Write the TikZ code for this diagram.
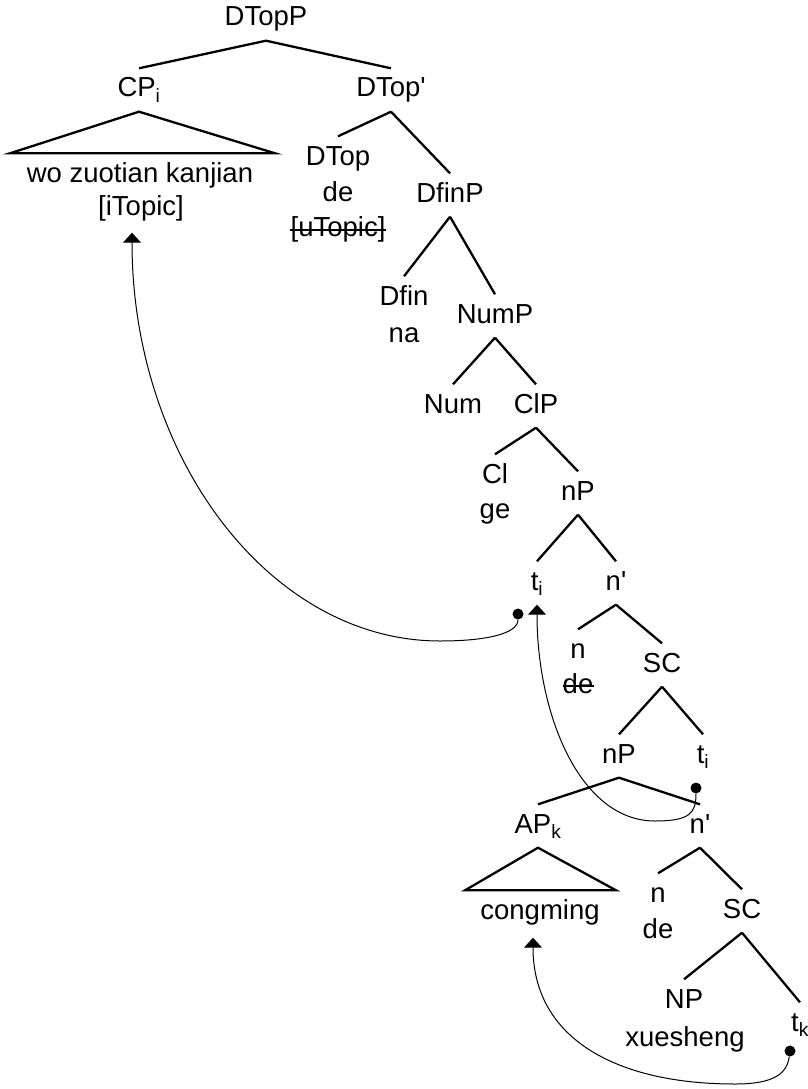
\documentclass[tikz,border=0pt]{standalone}
\usepackage{fontspec}
\setmainfont{Liberation Sans}
\usetikzlibrary{arrows.meta,calc}

\begin{document}
\begin{tikzpicture}[x=1pt,y=-1pt,font=\fontsize{27.5}{33}\selectfont,
  lbl/.style={anchor=base,inner xsep=0pt,inner ysep=8.5pt,text height=20pt,text depth=6pt},
  br/.style={line width=2.3pt},
  strike/.style={line width=1.5pt},
  mv/.style={line width=1pt,-{Triangle[width=18pt,length=10pt]}},
  dot/.style={circle,fill,inner sep=0pt,minimum size=11pt}]
\useasboundingbox (0,0) rectangle (807,1089);
\node[lbl] (dtopp) at (266,26) {DTopP};
\node[lbl] (cp) at (139,97) {CP\textsubscript{i}};
\node[lbl] (dtopbar) at (391,97) {DTop\textquotesingle};
\node[lbl] (wo) at (140,182) {wo zuotian kanjian};
\node[lbl] (itopic) at (141,215) {[iTopic]};
\node[lbl] (dtop) at (338,165) {DTop};
\node[lbl] (dtopde) at (338,201) {de};
\node[lbl] (utopic) at (338,236) {[uTopic]};
\node[lbl] (dfinp) at (450,202) {DfinP};
\node[lbl] (dfin) at (404,305) {Dfin};
\node[lbl] (na) at (404,342) {na};
\node[lbl] (nump) at (495,323) {NumP};
\node[lbl] (num) at (453,413) {Num};
\node[lbl] (clp) at (536,413) {ClP};
\node[lbl] (cl) at (495,483) {Cl};
\node[lbl] (ge) at (495,518) {ge};
\node[lbl] (np) at (578,500) {nP};
\node[lbl] (ti) at (537,590) {t\textsubscript{i}};
\node[lbl] (nbar) at (616,590) {n\textquotesingle};
\node[lbl] (n) at (578,658) {n};
\node[lbl] (nde) at (578,693) {de};
\node[lbl] (sc) at (662,672) {SC};
\node[lbl] (npb) at (619,763) {nP};
\node[lbl] (tib) at (703,763) {t\textsubscript{i}};
\node[lbl] (apk) at (538,833) {AP\textsubscript{k}};
\node[lbl] (nbarb) at (700,833) {n\textquotesingle};
\node[lbl] (cong) at (540,919) {congming};
\node[lbl] (nb) at (658,902) {n};
\node[lbl] (ndeb) at (658,938) {de};
\node[lbl] (scb) at (742,918) {SC};
\node[lbl] (npx) at (684,1008) {NP};
\node[lbl] (xue) at (685,1046) {xuesheng};
\node[lbl] (tk) at (800,1031) {t\textsubscript{k}};
\draw[strike] ([yshift=6pt]utopic.base west)--([yshift=6pt]utopic.base east);
\draw[strike] ([yshift=7pt]nde.base west)--([yshift=7pt]nde.base east);
\draw[br] (dtopp.south)--(cp.north);\draw[br] (dtopp.south)--(dtopbar.north);
\draw[br] (dtopbar.south)--(dtop.north);\draw[br] (dtopbar.south)--(dfinp.north);
\draw[br] (dfinp.south)--(dfin.north);\draw[br] (dfinp.south)--(nump.north);
\draw[br] (nump.south)--(num.north);\draw[br] (nump.south)--(clp.north);
\draw[br] (clp.south)--(cl.north);\draw[br] (clp.south)--(np.north);
\draw[br] (np.south)--(ti.north);\draw[br] (np.south)--(nbar.north);
\draw[br] (nbar.south)--(n.north);\draw[br] (nbar.south)--(sc.north);
\draw[br] (sc.south)--(npb.north);\draw[br] (sc.south)--(tib.north);
\draw[br] (npb.south)--(apk.north);\draw[br] (npb.south)--(nbarb.north);
\draw[br] (nbarb.south)--(nb.north);\draw[br] (nbarb.south)--(scb.north);
\draw[br] (scb.south)--(npx.north);\draw[br] (scb.south)--(tk.north);
\draw[br] (cp.south)--($(wo.north)+(-130,0)$)--($(wo.north)+(135,0)$)--cycle;
\draw[br] (apk.south)--($(cong.north)+(-75,0)$)--($(cong.north)+(76,0)$)--cycle;
\node[dot] (dota) at (518,614) {};\node[dot] (dotb) at (696,788) {};\node[dot] (dotc) at (790,1051) {};
\coordinate (benda) at (440,641);\coordinate (bendb) at (655,821);\coordinate (bendc) at (735,1084);
\coordinate (tipa) at ($(itopic.south)+(-9,3)$);\coordinate (tipc) at ($(cong.south)+(-7,4)$);
\draw[mv] (dota) .. controls +(0,20) and +(45,0) .. (benda) .. controls +(-170,0) and +(0,225) .. (tipa);
\draw[mv] (dotb) .. controls +(0,25) and +(35,0) .. (bendb) .. controls +(-75,0) and +(0,110) .. (ti.south);
\draw[mv] (dotc) .. controls +(-3,22) and +(40,0) .. (bendc) .. controls +(-120,0) and +(0,100) .. (tipc);
\end{tikzpicture}
\end{document}
